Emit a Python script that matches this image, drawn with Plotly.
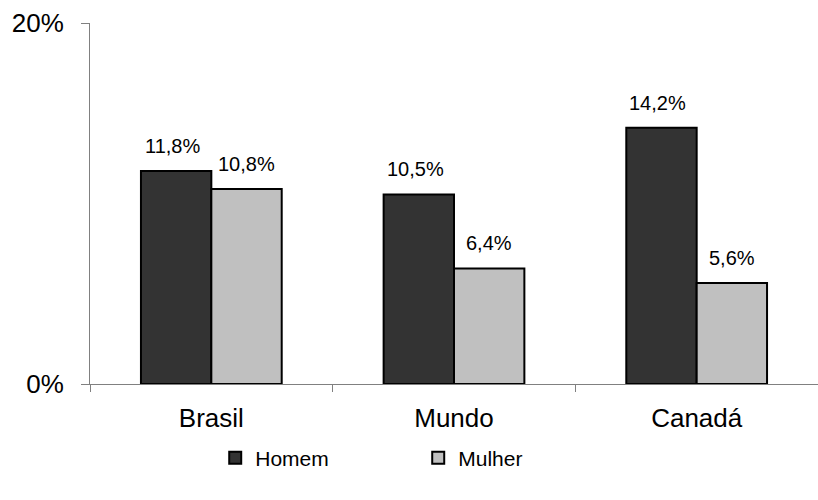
import plotly.graph_objects as go

categories = ["Brasil", "Mundo", "Canadá"]
homem = [11.8, 10.5, 14.2]
mulher = [10.8, 6.4, 5.6]
series_names = ["Homem", "Mulher"]
y_ticks = [0, 20]
y_tick_labels = ["0%", "20%"]

def fmt(v):
    return f"{v:.1f}".replace(".", ",") + "%"

FONT = "Liberation Sans, Arial, sans-serif"
colors = ["#333333", "#c0c0c0"]

fig = go.Figure()
for name, vals, col in zip(series_names, [homem, mulher], colors):
    fig.add_trace(go.Bar(
        name=name, x=categories, y=vals, hoverinfo="skip",
        marker=dict(color=col, line=dict(color="#000000", width=2)),
    ))

# value labels
for vals, xs in [(homem, -39), (mulher, 35)]:
    for c, v in zip(categories, vals):
        fig.add_annotation(x=c, y=v, text=fmt(v), showarrow=False,
                           xref="x", yref="y", xshift=xs, yshift=12,
                           yanchor="bottom", font=dict(size=20, color="#000", family=FONT))

fig.update_layout(
    width=818, height=500,
    margin=dict(l=90, r=0, t=23, b=116),
    plot_bgcolor="white", paper_bgcolor="white",
    barmode="group", bargap=0.42, bargroupgap=0,
    font=dict(family=FONT, color="#000"),
    showlegend=True,
    legend=dict(orientation="h", x=0.172, y=-0.205, xanchor="left", yanchor="middle",
                font=dict(size=21, family=FONT), entrywidth=158, entrywidthmode="pixels",
                bgcolor="rgba(0,0,0,0)"),
    xaxis=dict(type="category", showline=True, linecolor="#808080", linewidth=1,
               ticks="outside", tickson="boundaries", ticklen=7, tickcolor="#808080",
               tickfont=dict(size=26, family=FONT), showgrid=False, zeroline=False,
               ticklabelstandoff=11),
    yaxis=dict(range=[0, 20], tickvals=y_ticks, ticktext=y_tick_labels,
               showline=True, linecolor="#808080", linewidth=1,
               ticks="outside", ticklen=8, tickcolor="#808080",
               tickfont=dict(size=26, family=FONT), showgrid=False, zeroline=False,
               ticklabelstandoff=12),
)

fig.write_html("out.html", config={"displayModeBar": False},
               post_script="document.body.style.margin='0';document.body.style.overflow='hidden';")
